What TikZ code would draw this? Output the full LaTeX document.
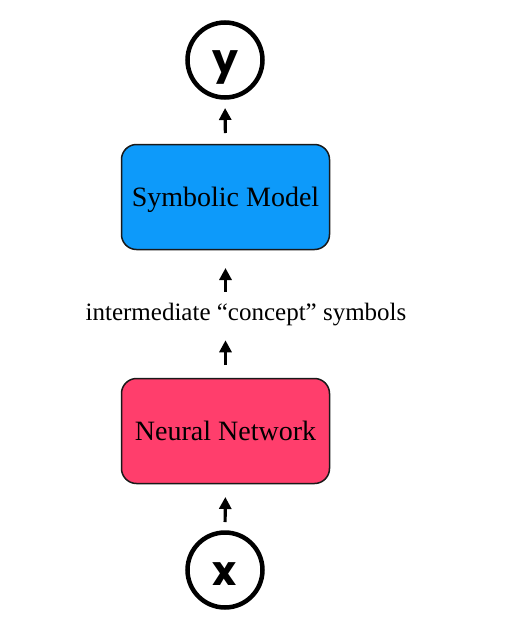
\documentclass[tikz,border=0pt]{standalone}
\usepackage{fontspec}
\setmainfont{Liberation Serif}
\newfontfamily\letterfont{Poppins}[UprightFont=* Bold]
\usetikzlibrary{arrows.meta}
\definecolor{symblue}{RGB}{13,154,250}
\definecolor{nnpink}{RGB}{255,62,108}
\definecolor{edgedark}{RGB}{25,25,25}
\tikzset{
  box/.style={draw=edgedark, line width=1.5pt, rounded corners=15pt, minimum width=208pt, minimum height=105pt, inner sep=0pt, text depth=0pt, font=\fontsize{28}{31}\selectfont},
  circ/.style={draw=black, circle, line width=4.5pt, minimum size=75pt, inner sep=0pt},
  letter/.style={inner sep=0pt, font=\letterfont\fontsize{41}{44}\selectfont},
  arr/.style={line width=3.2pt, -{Triangle[width=12pt,length=12pt]}},
}
\begin{document}
\begin{tikzpicture}[x=1pt,y=-1pt]
\useasboundingbox (0,0) rectangle (528,635);
\node[circ] (y) at (225,60) {};
\node[letter] (ylet) at (225,67) {y};
\node[box, fill=symblue] (sm) at (225.5,197) {Symbolic Model};
\node[inner sep=0pt, font=\fontsize{25}{28}\selectfont] (lbl) at (246,315) {intermediate “concept” symbols};
\node[box, fill=nnpink] (nn) at (225.5,431) {Neural Network};
\node[circ] (x) at (225,570) {};
\node[letter] (xlet) at (225,574) {x};
\draw[arr, shorten <=10.75pt, shorten >=8.25pt] (sm.north) -- (y.south);
\draw[arr, shorten <=11.7pt, shorten >=17.75pt] (lbl.north -| sm.south) -- (sm.south);
\draw[arr, shorten <=12.75pt, shorten >=13.7pt] (nn.north) -- (nn.north |- lbl.south);
\draw[arr, shorten <=8.25pt, shorten >=12.75pt] (x.north) -- (nn.south);
\end{tikzpicture}
\end{document}
